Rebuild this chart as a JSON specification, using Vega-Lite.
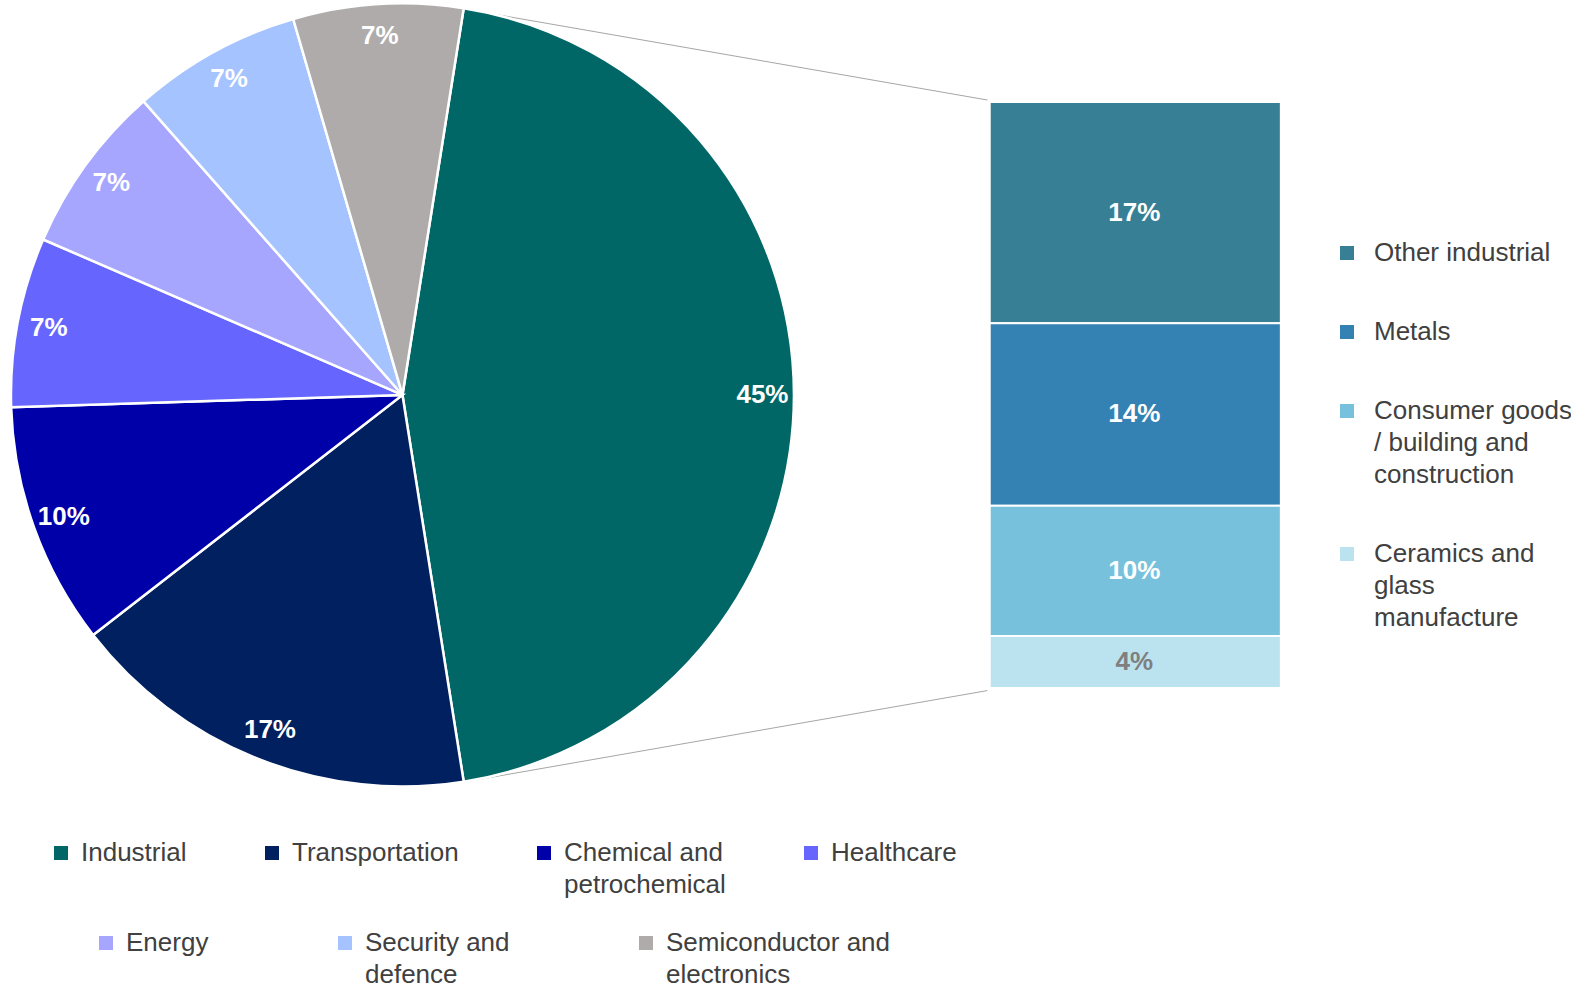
{
  "$schema": "https://vega.github.io/schema/vega-lite/v6.json",
  "width": 1571,
  "height": 988,
  "autosize": {"type": "none"},
  "padding": 0,
  "background": "white",
  "config": {"view": {"stroke": null}, "font": "Liberation Sans", "style": {"guide-label": {"lineHeight": 32}}},
  "datasets": {
    "pie": [
      {"category": "Industrial", "value": 0.45, "rank": 1},
      {"category": "Transportation", "value": 0.17, "rank": 2},
      {"category": "Chemical and petrochemical", "value": 0.10, "rank": 3},
      {"category": "Healthcare", "value": 0.07, "rank": 4},
      {"category": "Energy", "value": 0.07, "rank": 5},
      {"category": "Security and defence", "value": 0.07, "rank": 6},
      {"category": "Semiconductor and electronics", "value": 0.07, "rank": 7}
    ],
    "bar": [
      {"category": "Other industrial", "value": 0.17, "rank": 1},
      {"category": "Metals", "value": 0.14, "rank": 2},
      {"category": "Consumer goods / building and construction", "value": 0.10, "rank": 3},
      {"category": "Ceramics and glass manufacture", "value": 0.04, "rank": 4}
    ]
  },
  "layer": [
    {
      "data": {"values": [{}]},
      "mark": {"type": "rule", "color": "#A6A6A6", "strokeWidth": 1},
      "encoding": {
        "x": {"datum": 0.0461, "type": "quantitative", "scale": {"domain": [-0.3072, 0.8993], "nice": false, "zero": false}, "axis": null},
        "y": {"datum": 0.5217, "type": "quantitative", "scale": {"domain": [-0.2304, 0.5283], "nice": false, "zero": false}, "axis": null},
        "x2": {"datum": 0.4521},
        "y2": {"datum": 0.4515}
      }
    },
    {
      "data": {"values": [{}]},
      "mark": {"type": "rule", "color": "#A6A6A6", "strokeWidth": 1},
      "encoding": {
        "x": {"datum": 0.0461, "type": "quantitative", "scale": {"domain": [-0.3072, 0.8993], "nice": false, "zero": false}, "axis": null},
        "y": {"datum": -0.0725, "type": "quantitative", "scale": {"domain": [-0.2304, 0.5283], "nice": false, "zero": false}, "axis": null},
        "x2": {"datum": 0.4521},
        "y2": {"datum": -0.002}
      }
    },
    {
      "data": {"name": "pie"},
      "mark": {"type": "arc", "outerRadius": 391.5, "stroke": "white", "strokeWidth": 2.5},
      "encoding": {
        "x": {"datum": 0, "type": "quantitative", "scale": {"domain": [-0.3072, 0.8993], "nice": false, "zero": false}, "axis": null},
        "y": {"datum": 0.225, "type": "quantitative", "scale": {"domain": [-0.2304, 0.5283], "nice": false, "zero": false}, "axis": null},
        "theta": {"field": "value", "type": "quantitative", "stack": true, "scale": {"domain": [0, 1], "range": [0.15708, 6.44026]}},
        "order": {"field": "rank", "type": "quantitative", "sort": "ascending"},
        "color": {
          "field": "category", "type": "nominal",
          "scale": {
            "domain": ["Industrial", "Transportation", "Chemical and petrochemical", "Healthcare", "Energy", "Security and defence", "Semiconductor and electronics"],
            "range": ["#006666", "#002060", "#0000A8", "#6666FF", "#A6A6FF", "#A5C3FF", "#AFABAB"]
          },
          "legend": {
            "values": ["Industrial", "Transportation", "Chemical and petrochemical", "Healthcare"],
            "orient": "none", "legendX": 48, "legendY": 840,
            "direction": "horizontal", "columns": 4, "title": null, "padding": 0,
            "symbolType": "square", "symbolSize": 196, "symbolStrokeWidth": 0, "symbolOpacity": 1,
            "labelFontSize": 26, "labelColor": "#404040", "labelOffset": 7, "labelLimit": 500,
            "columnPadding": 72,
            "labelExpr": "datum.label == 'Chemical and petrochemical' ? ['Chemical and', 'petrochemical'] : [datum.label, '']",
            "encode": {"labels": {"update": {"lineHeight": {"value": 32}}}}
          }
        }
      }
    },
    {
      "data": {"name": "pie"},
      "mark": {"type": "arc", "outerRadius": 391.5, "stroke": "white", "strokeWidth": 2.5},
      "encoding": {
        "x": {"datum": 0, "type": "quantitative", "scale": {"domain": [-0.3072, 0.8993], "nice": false, "zero": false}, "axis": null},
        "y": {"datum": 0.225, "type": "quantitative", "scale": {"domain": [-0.2304, 0.5283], "nice": false, "zero": false}, "axis": null},
        "theta": {"field": "value", "type": "quantitative", "stack": true, "scale": {"domain": [0, 1], "range": [0.15708, 6.44026]}},
        "order": {"field": "rank", "type": "quantitative", "sort": "ascending"},
        "color": {
          "field": "category", "type": "nominal",
          "scale": {
            "domain": ["Industrial", "Transportation", "Chemical and petrochemical", "Healthcare", "Energy", "Security and defence", "Semiconductor and electronics"],
            "range": ["#006666", "#002060", "#0000A8", "#6666FF", "#A6A6FF", "#A5C3FF", "#AFABAB"]
          },
          "legend": {
            "values": ["Energy", "Security and defence", "Semiconductor and electronics"],
            "orient": "none", "legendX": 93, "legendY": 930,
            "direction": "horizontal", "columns": 3, "title": null, "padding": 0,
            "symbolType": "square", "symbolSize": 196, "symbolStrokeWidth": 0, "symbolOpacity": 1,
            "labelFontSize": 26, "labelColor": "#404040", "labelOffset": 7, "labelLimit": 500,
            "columnPadding": 123,
            "labelExpr": "datum.label == 'Security and defence' ? ['Security and', 'defence'] : datum.label == 'Semiconductor and electronics' ? ['Semiconductor and', 'electronics'] : [datum.label, '']",
            "encode": {"labels": {"update": {"lineHeight": {"value": 31}}}}
          }
        }
      }
    },
    {
      "data": {"name": "pie"},
      "mark": {"type": "text", "radius": 360, "fontSize": 26, "fontWeight": "bold", "fill": "white"},
      "encoding": {
        "x": {"datum": 0, "type": "quantitative", "scale": {"domain": [-0.3072, 0.8993], "nice": false, "zero": false}, "axis": null},
        "y": {"datum": 0.225, "type": "quantitative", "scale": {"domain": [-0.2304, 0.5283], "nice": false, "zero": false}, "axis": null},
        "theta": {"field": "value", "type": "quantitative", "stack": true, "scale": {"domain": [0, 1], "range": [0.15708, 6.44026]}},
        "order": {"field": "rank", "type": "quantitative", "sort": "ascending"},
        "detail": {"field": "category", "type": "nominal"},
        "text": {"field": "value", "type": "quantitative", "format": ".0%"}
      }
    },
    {
      "data": {"name": "bar"},
      "mark": {"type": "bar", "orient": "vertical", "stroke": "white", "strokeWidth": 2},
      "encoding": {
        "x": {"datum": 0.4539, "type": "quantitative", "scale": {"domain": [-0.3072, 0.8993], "nice": false, "zero": false}, "axis": null},
        "x2": {"datum": 0.6789},
        "y": {"field": "value", "type": "quantitative", "stack": "zero", "scale": {"domain": [-0.2304, 0.5283], "nice": false, "zero": false}, "axis": null},
        "order": {"field": "rank", "type": "quantitative", "sort": "descending"},
        "color": {
          "field": "category", "type": "nominal",
          "scale": {
            "domain": ["Other industrial", "Metals", "Consumer goods / building and construction", "Ceramics and glass manufacture"],
            "range": ["#377F95", "#3481B3", "#77C1DD", "#BBE3EF"]
          },
          "legend": {
            "orient": "none", "legendX": 1334, "legendY": 240,
            "direction": "vertical", "title": null, "padding": 0,
            "symbolType": "square", "symbolSize": 196, "symbolStrokeWidth": 0, "symbolOpacity": 1,
            "labelFontSize": 26, "labelColor": "#404040", "labelOffset": 14, "labelLimit": 500,
            "rowPadding": 53,
            "labelExpr": "datum.label == 'Consumer goods / building and construction' ? ['Consumer goods', '/ building and', 'construction'] : datum.label == 'Ceramics and glass manufacture' ? ['Ceramics and', 'glass', 'manufacture'] : datum.label",
            "encode": {"labels": {"update": {"lineHeight": {"value": 32}}}}
          }
        }
      }
    },
    {
      "data": {"name": "bar"},
      "mark": {"type": "text", "fontSize": 26, "fontWeight": "bold"},
      "encoding": {
        "x": {"datum": 0.5656, "type": "quantitative", "scale": {"domain": [-0.3072, 0.8993], "nice": false, "zero": false}, "axis": null},
        "y": {"field": "value", "type": "quantitative", "stack": "zero", "bandPosition": 0.5, "scale": {"domain": [-0.2304, 0.5283], "nice": false, "zero": false}, "axis": null},
        "order": {"field": "rank", "type": "quantitative", "sort": "descending"},
        "detail": {"field": "category", "type": "nominal"},
        "text": {"field": "value", "type": "quantitative", "format": ".0%"},
        "fill": {"condition": {"test": "datum.category === 'Ceramics and glass manufacture'", "value": "#7F7F7F"}, "value": "white"}
      }
    }
  ],
  "resolve": {"scale": {"color": "independent"}, "legend": {"color": "independent"}}
}
